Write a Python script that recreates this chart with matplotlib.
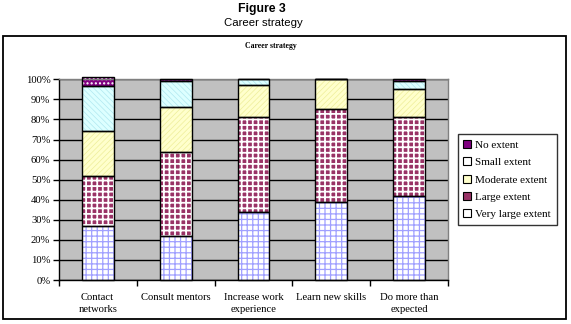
import matplotlib
matplotlib.use("Agg")
import matplotlib.pyplot as plt
import matplotlib.patches as mpatches
from matplotlib.lines import Line2D
import numpy as np

categories = ["Contact\nnetworks", "Consult mentors", "Increase work\nexperience",
              "Learn new skills", "Do more than\nexpected"]
very_large = [27, 22, 34, 39, 42]
large = [25, 42, 47, 46, 39]
moderate = [22, 22, 16, 15, 14]
small = [22.5, 13, 3, 0, 4]
no_extent = [4.5, 1, 0, 0, 1]
series_names = ["Very large extent", "Large extent", "Moderate extent", "Small extent", "No extent"]
y_ticks = [0, 10, 20, 30, 40, 50, 60, 70, 80, 90, 100]

series = [very_large, large, moderate, small, no_extent]
# (face colour, hatch colour, hatch, hatch linewidth)
styles = [
    ("#FFFFFF", "#A0A0FF", "+++", 0.9),
    ("#993366", "#FFFFFF", "+++", 1.3),
    ("#FFFFCC", "#EEEE99", "//////", 0.5),
    ("#DDFFFF", "#B0E8F0", "\\\\\\\\\\\\", 0.5),
    ("#800080", "#FFFFFF", "....", 1.0),
]

serif = "Liberation Serif"
sans = "Liberation Sans"

fig = plt.figure(figsize=(5.71, 3.24), dpi=100)
W, H = 571, 324

# outer chart frame
fig.patches.append(mpatches.Rectangle((3 / W, 1 - 318.5 / H), (565.5 - 3) / W, (318.5 - 36) / H,
                                      transform=fig.transFigure, fill=False,
                                      edgecolor="black", linewidth=1.3))

fig.text(262 / W, 1 - 9 / H, "Figure 3", ha="center", va="center", fontsize=8.8,
         fontweight="bold", family=sans)
fig.text(263 / W, 1 - 22.5 / H, "Career strategy", ha="center", va="center", fontsize=8.2,
         family=sans)
fig.text(271 / W, 1 - 45.5 / H, "Career strategy", ha="center", va="center", fontsize=5.6,
         fontweight="bold", family=serif)

ax = fig.add_axes([58.7 / W, 1 - 280 / H, (448.3 - 58.7) / W, (280 - 79.3) / H])
ax.set_facecolor("#C0C0C0")
ax.set_axisbelow(True)

x = np.arange(len(categories))
bw = 0.41
bottom = np.zeros(len(categories))
handles = []
for vals, (fc, hc, hatch, hlw), name in zip(series, styles, series_names):
    vals = np.array(vals, dtype=float)
    with plt.rc_context({"hatch.linewidth": hlw, "hatch.color": hc}):
        bars = ax.bar(x, vals, bw, bottom=bottom, color=fc, edgecolor=hc, hatch=hatch,
                      linewidth=0, clip_on=False, zorder=2)
        for b in bars:
            if hasattr(b, "set_hatch_linewidth"):
                b.set_hatch_linewidth(hlw)
    ax.bar(x, vals, bw, bottom=bottom, fill=False, edgecolor="black", linewidth=1.0,
           clip_on=False, zorder=3)
    bottom = bottom + vals
    handles.append(Line2D([], [], linestyle="none", marker="s", markersize=5.5,
                          markerfacecolor=fc if name != "Small extent" else "#FFFFFF",
                          markeredgecolor="black", markeredgewidth=0.8, label=name))

ax.set_xlim(-0.5, len(categories) - 0.5)
ax.set_ylim(0, 100)
ax.set_yticks(y_ticks)
ax.set_yticklabels([f"{v}%" for v in y_ticks], family=serif, fontsize=7.7)
ax.yaxis.grid(True, color="black", linewidth=1.0)
ax.tick_params(axis="y", length=4, width=1, pad=2)

ax.set_xticks(x)
ax.set_xticklabels(categories, family=serif, fontsize=7.7, linespacing=1.45)
ax.set_xticks(np.arange(len(categories) + 1) - 0.5, minor=True)
ax.tick_params(axis="x", which="major", length=0, pad=9)
ax.tick_params(axis="x", which="minor", length=4, width=1)

for s in ["top", "right"]:
    ax.spines[s].set_color("#808080")
    ax.spines[s].set_linewidth(1)
for s in ["left", "bottom"]:
    ax.spines[s].set_color("black")
    ax.spines[s].set_linewidth(1)

leg = fig.legend(handles=handles[::-1], loc="upper left",
                 bbox_to_anchor=(458 / W, 1 - 134 / H), prop={"family": serif, "size": 8},
                 frameon=True, fancybox=False, edgecolor="black", handlelength=0.6,
                 handletextpad=0.4, labelspacing=0.68, borderpad=0.55, borderaxespad=0)
leg.get_frame().set_linewidth(1.0)

fig.savefig("out.png", dpi=100)
